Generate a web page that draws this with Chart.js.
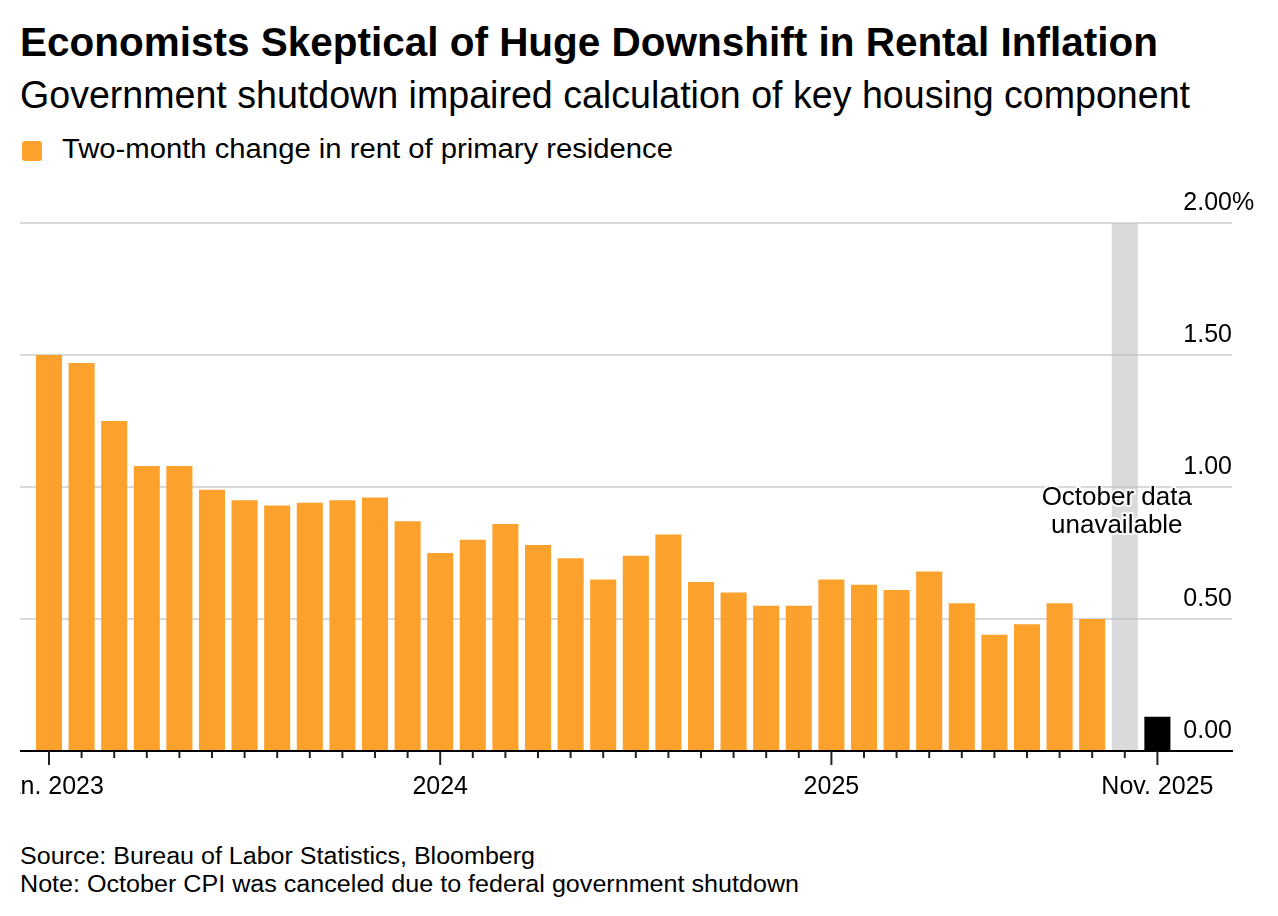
<!DOCTYPE html>
<html>
<head>
<meta charset="utf-8">
<script src="https://cdn.jsdelivr.net/npm/chart.js@4.4.1/dist/chart.umd.min.js"></script>
<style>
  body { margin: 0; background: #fff; width: 1278px; height: 916px; position: relative; overflow: hidden;
         font-family: "Liberation Sans", Arial, sans-serif; color: #000; }
  .t { position: absolute; left: 20px; white-space: nowrap; transform-origin: 0 0; }
  #title { top: 22px; font-size: 40px; line-height: 40px; font-weight: bold; }
  #sub { top: 76px; font-size: 38px; line-height: 38px; }
  #legend { top: 136px; left: 62px; font-size: 27px; line-height: 27px; }
  #swatch { position: absolute; left: 22px; top: 141px; width: 20px; height: 20px; border-radius: 3px; background: #FDA12D; }
  #src { top: 845px; font-size: 23px; line-height: 23px; }
  #note { top: 873px; font-size: 23px; line-height: 23px; }
  #wrap { position: absolute; left: 20px; top: 180px; width: 1258px; height: 636px; }
</style>
</head>
<body>
<div class="t" id="title">Economists Skeptical of Huge Downshift in Rental Inflation</div>
<div class="t" id="sub">Government shutdown impaired calculation of key housing component</div>
<div id="swatch"></div>
<div class="t" id="legend">Two-month change in rent of primary residence</div>
<div id="wrap"><canvas id="chart"></canvas></div>
<div class="t" id="src">Source: Bureau of Labor Statistics, Bloomberg</div>
<div class="t" id="note">Note: October CPI was canceled due to federal government shutdown</div>
<script>
const months = [
  'Jan 2023', 'Feb 2023', 'Mar 2023', 'Apr 2023', 'May 2023', 'Jun 2023', 'Jul 2023', 'Aug 2023', 'Sep 2023', 'Oct 2023', 'Nov 2023', 'Dec 2023',
  'Jan 2024', 'Feb 2024', 'Mar 2024', 'Apr 2024', 'May 2024', 'Jun 2024', 'Jul 2024', 'Aug 2024', 'Sep 2024', 'Oct 2024', 'Nov 2024', 'Dec 2024',
  'Jan 2025', 'Feb 2025', 'Mar 2025', 'Apr 2025', 'May 2025', 'Jun 2025', 'Jul 2025', 'Aug 2025', 'Sep 2025', 'Oct 2025', 'Nov 2025'
];
// two-month change, %
const rentChange = [
  1.50, 1.47, 1.25, 1.08, 1.08, 0.99, 0.95, 0.93, 0.94, 0.95, 0.96, 0.87,
  0.75, 0.80, 0.86, 0.78, 0.73, 0.65, 0.74, 0.82, 0.64, 0.60, 0.55, 0.55,
  0.65, 0.63, 0.61, 0.68, 0.56, 0.44, 0.48, 0.56, 0.50, null, null
];
const latest = [
  null, null, null, null, null, null, null, null, null, null, null, null,
  null, null, null, null, null, null, null, null, null, null, null, null,
  null, null, null, null, null, null, null, null, null, null, 0.13
];
// October 2025 has no data: shaded band over the whole axis
const unavailable = [
  null, null, null, null, null, null, null, null, null, null, null, null,
  null, null, null, null, null, null, null, null, null, null, null, null,
  null, null, null, null, null, null, null, null, null, 2.0, null
];
const tickMonths = ['Jan 2023', 'Jan 2024', 'Jan 2025', 'Nov 2025'];
const tickText = ['Jan. 2023', '2024', '2025', 'Nov. 2025'];
const yTicks = [0, 0.5, 1.0, 1.5, 2.0];

const FONT = '"Liberation Sans", Arial, sans-serif';
const ORANGE = '#FDA12D';

// squeeze header/footer text to the reference widths
function fit(id, w) {
  const el = document.getElementById(id);
  el.style.transform = 'scaleX(' + (w / el.getBoundingClientRect().width) + ')';
}
fit('title', 1138);
fit('sub', 1170);
fit('legend', 611);
fit('src', 515);
fit('note', 779);

const decor = {
  id: 'decor',
  beforeDatasetsDraw(chart) {
    const { ctx, scales: { y } } = chart;
    const right = chart.width - 46;
    ctx.save();
    ctx.strokeStyle = '#cdcdcd';
    ctx.lineWidth = 1.5;
    yTicks.forEach(v => {
      if (v === 0) return;
      const py = y.getPixelForValue(v);
      ctx.beginPath();
      ctx.moveTo(0, py);
      ctx.lineTo(right, py);
      ctx.stroke();
    });
    ctx.restore();
  },
  afterDatasetsDraw(chart) {
    const { ctx, scales: { x, y } } = chart;
    const right = chart.width - 46;
    const base = y.getPixelForValue(0);
    ctx.save();
    // axis line
    ctx.strokeStyle = '#000';
    ctx.lineWidth = 2;
    ctx.beginPath();
    ctx.moveTo(0, base);
    ctx.lineTo(right + 1, base);
    ctx.stroke();
    // month ticks, longer at labelled months
    ctx.strokeStyle = '#222';
    months.forEach((m, i) => {
      const px = x.getPixelForValue(i);
      const len = tickMonths.includes(m) ? 14 : 7;
      ctx.beginPath();
      ctx.moveTo(px, base);
      ctx.lineTo(px, base + len);
      ctx.stroke();
    });
    // value labels sit above their gridlines on the right
    ctx.fillStyle = '#000';
    ctx.font = '25px ' + FONT;
    ctx.textBaseline = 'alphabetic';
    yTicks.forEach(v => {
      const py = y.getPixelForValue(v) - 13;
      ctx.textAlign = 'right';
      ctx.fillText(v.toFixed(2), right, py);
      if (v === yTicks[yTicks.length - 1]) {
        ctx.textAlign = 'left';
        ctx.fillText('%', right, py);
      }
    });
    // note on the missing month
    const ax = x.getPixelForValue(months.indexOf('Oct 2025')) - 8;
    const ay = y.getPixelForValue(1.0);
    ctx.font = '26px ' + FONT;
    ctx.textAlign = 'center';
    ctx.strokeStyle = 'rgba(255,255,255,0.85)';
    ctx.lineWidth = 4;
    ctx.lineJoin = 'round';
    [['October data', 18], ['unavailable', 46]].forEach(([s, dy]) => {
      ctx.strokeText(s, ax, ay + dy);
      ctx.fillText(s, ax, ay + dy);
    });
    ctx.restore();
  }
};

new Chart(document.getElementById('chart'), {
  type: 'bar',
  data: {
    labels: months,
    datasets: [
      { label: 'Two-month change in rent of primary residence', data: rentChange, backgroundColor: ORANGE },
      { label: 'Nov. 2025', data: latest, backgroundColor: '#000' },
      { label: 'October data unavailable', data: unavailable, backgroundColor: 'rgba(196,194,199,0.62)' }
    ]
  },
  options: {
    responsive: true,
    maintainAspectRatio: false,
    animation: false,
    barPercentage: 0.8,
    categoryPercentage: 1.0,
    layout: { padding: { left: 12.7, right: 104.3, top: 43, bottom: 1 } },
    plugins: { legend: { display: false }, tooltip: { enabled: false } },
    scales: {
      x: {
        stacked: true,
        grid: { display: false },
        border: { display: false },
        ticks: {
          autoSkip: false,
          maxRotation: 0,
          minRotation: 0,
          padding: 13,
          color: '#000',
          font: { family: FONT, size: 25 },
          callback: (v, i) => {
            const k = tickMonths.indexOf(months[i]);
            return k >= 0 ? tickText[k] : '';
          }
        },
        afterFit: s => { s.paddingLeft = 0; s.paddingRight = 0; }
      },
      y: {
        display: false,
        stacked: true,
        min: 0,
        max: 2,
        ticks: { stepSize: 0.5 }
      }
    }
  },
  plugins: [decor]
});
</script>
</body>
</html>
